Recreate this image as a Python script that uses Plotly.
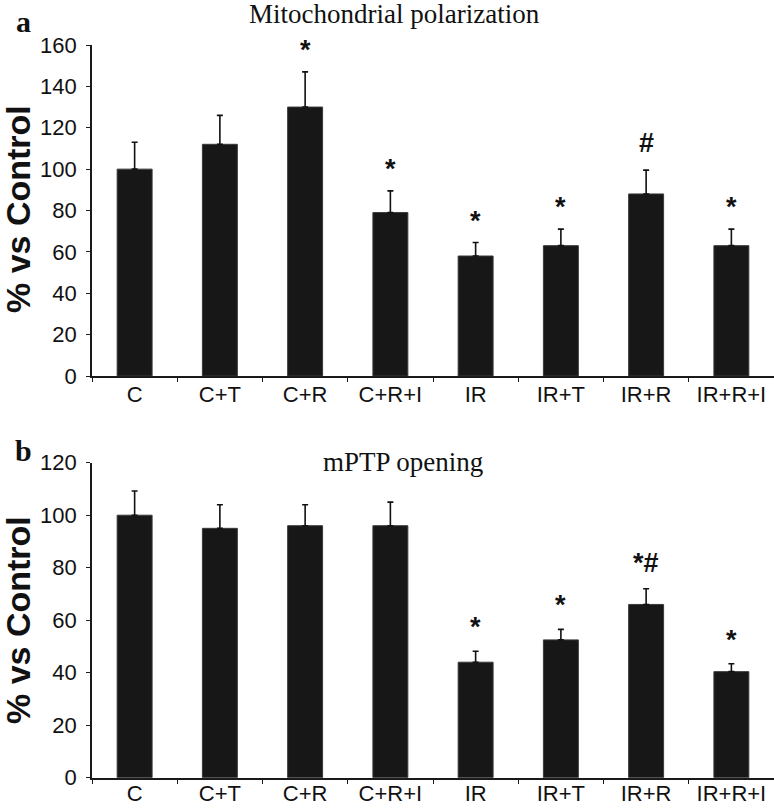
import plotly.graph_objects as go

categories = ["C", "C+T", "C+R", "C+R+I", "IR", "IR+T", "IR+R", "IR+R+I"]

# Panel a: Mitochondrial polarization
pol_values = [100, 112, 130, 79, 58, 63, 88, 63]
pol_errors = [13, 14, 17, 10.5, 6.5, 8, 11.5, 8]
pol_marks = ["", "", "*", "*", "*", "*", "#", "*"]

# Panel b: mPTP opening
mptp_values = [100, 95, 96, 96, 44, 52.5, 66, 40.4]
mptp_errors = [9.2, 9, 8, 9, 4.2, 4, 6, 3]
mptp_marks = ["", "", "", "", "*", "*", "*#", "*"]

y_ticks_a = [0, 20, 40, 60, 80, 100, 120, 140, 160]
y_ticks_b = [0, 20, 40, 60, 80, 100, 120]

W, H = 774, 809


def px(x):
    return x / W


def py(y):
    return 1 - y / H


fig = go.Figure()

BAR_COLOR = "#171717"

fig.add_trace(go.Bar(
    x=categories, y=pol_values, xaxis="x", yaxis="y",
    marker=dict(color=BAR_COLOR, line=dict(color="#3a3a3a", width=1)),
    error_y=dict(type="data", symmetric=False, array=pol_errors,
                 arrayminus=[0] * len(pol_errors), color="#111111",
                 thickness=1.6, width=3),
    showlegend=False,
))
fig.add_trace(go.Bar(
    x=categories, y=mptp_values, xaxis="x2", yaxis="y2",
    marker=dict(color=BAR_COLOR, line=dict(color="#3a3a3a", width=1)),
    error_y=dict(type="data", symmetric=False, array=mptp_errors,
                 arrayminus=[0] * len(mptp_errors), color="#111111",
                 thickness=1.6, width=3),
    showlegend=False,
))

axis_common_x = dict(
    type="category", range=[-0.5, 7.5], tickson="boundaries",
    showline=True, linecolor="#1a1a1a", linewidth=1.6,
    ticks="outside", ticklen=4, tickwidth=1.2, tickcolor="#1a1a1a",
    tickfont=dict(family="Liberation Sans, Arial", size=22, color="#111111"),
    showgrid=False, zeroline=False, fixedrange=True, automargin=False,
)
axis_common_y = dict(
    showline=True, linecolor="#1a1a1a", linewidth=1.6,
    ticks="outside", ticklen=4, tickwidth=1.2, tickcolor="#1a1a1a",
    tickfont=dict(family="Liberation Sans, Arial", size=22, color="#111111"),
    showgrid=False, zeroline=False, fixedrange=True, automargin=False,
    ticklabelstandoff=5,
)

x_dom = [px(92), 1.0]

fig.update_layout(
    width=W, height=H,
    margin=dict(l=0, r=0, t=0, b=0, autoexpand=False),
    paper_bgcolor="white", plot_bgcolor="white",
    bargap=0.59,
    xaxis=dict(axis_common_x, domain=x_dom, anchor="y", ticklabelstandoff=-2),
    yaxis=dict(axis_common_y, domain=[py(376), py(45)], range=[0, 160],
               tickvals=y_ticks_a, anchor="x"),
    xaxis2=dict(axis_common_x, domain=x_dom, anchor="y2", ticklabelstandoff=-5),
    yaxis2=dict(axis_common_y, domain=[py(777.7), py(462.7)], range=[0, 120],
                tickvals=y_ticks_b, anchor="x2"),
)

annotations = []

MARK_FONT = dict(family="Liberation Sans, Arial", size=27, color="#111111")

# significance marks
for cat, v, e, m in zip(categories, pol_values, pol_errors, pol_marks):
    if m:
        annotations.append(dict(
            x=cat, y=v + e, xref="x", yref="y", text="<b>" + m + "</b>",
            showarrow=False, yanchor="middle",
            yshift=22 if m == "*" else 27, font=MARK_FONT,
        ))
for cat, v, e, m in zip(categories, mptp_values, mptp_errors, mptp_marks):
    if m:
        annotations.append(dict(
            x=cat, y=v + e, xref="x2", yref="y2", text="<b>" + m + "</b>",
            showarrow=False, yanchor="middle",
            yshift=24 if m == "*" else 26, font=MARK_FONT,
        ))

# titles
annotations.append(dict(
    x=px(394), y=py(14), xref="paper", yref="paper", text="Mitochondrial polarization",
    showarrow=False, xanchor="center", yanchor="middle",
    font=dict(family="Liberation Serif, Times New Roman", size=27, color="#111111"),
))
annotations.append(dict(
    x=px(403), y=py(462), xref="paper", yref="paper", text="mPTP opening",
    showarrow=False, xanchor="center", yanchor="middle",
    font=dict(family="Liberation Serif, Times New Roman", size=27, color="#111111"),
))
# panel letters
annotations.append(dict(
    x=px(23), y=py(21), xref="paper", yref="paper", text="<b>a</b>",
    showarrow=False, xanchor="center", yanchor="middle",
    font=dict(family="Liberation Serif, Times New Roman", size=30, color="#111111"),
))
annotations.append(dict(
    x=px(23), y=py(450), xref="paper", yref="paper", text="<b>b</b>",
    showarrow=False, xanchor="center", yanchor="middle",
    font=dict(family="Liberation Serif, Times New Roman", size=30, color="#111111"),
))
# y-axis titles
for yc in (209, 620):
    annotations.append(dict(
        x=px(18), y=py(yc), xref="paper", yref="paper", text="<b>% vs Control</b>",
        showarrow=False, xanchor="center", yanchor="middle", textangle=-90,
        font=dict(family="Liberation Sans, Arial", size=34, color="#111111"),
    ))

fig.update_layout(annotations=annotations)

fig.write_html(
    "out.html",
    config={"displayModeBar": False},
    post_script="document.body.style.margin='0';document.body.style.overflow='hidden';",
)
